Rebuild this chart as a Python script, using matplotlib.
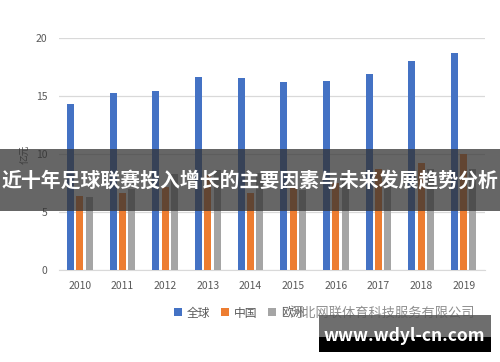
import matplotlib
matplotlib.use('Agg')
import matplotlib.pyplot as plt
import numpy as np
from matplotlib.patches import Rectangle

plt.rcParams['font.family'] = ['Noto Sans CJK SC', 'DejaVu Sans']

years = ['2010', '2011', '2012', '2013', '2014', '2015', '2016', '2017', '2018', '2019']
quanqiu = [14.3, 15.25, 15.4, 16.6, 16.55, 16.2, 16.3, 16.9, 18.0, 18.7]
zhongguo = [6.4, 6.6, 7.2, 8.2, 6.6, 7.2, 7.5, 8.7, 9.25, 10.0]
qita = [6.3, 7.0, 8.3, 8.6, 8.4, 6.9, 8.3, 7.5, 8.7, 8.7]
series_names = ['全球', '中国', '欧洲']
colors = ['#4472C4', '#ED7D31', '#A5A5A5']

fig = plt.figure(figsize=(5, 3.62), dpi=100)
ax = fig.add_axes([0.117, 0.254, 0.853, 0.641])

x = np.arange(len(years))
step = 0.218
w = 0.165
for i, (vals, name) in enumerate(zip([quanqiu, zhongguo, qita], series_names)):
    ax.bar(x + (i - 1) * step, vals, width=w, color=colors[i], label=name, zorder=3)

ax.set_xlim(-0.5, len(years) - 0.5)
ax.set_ylim(0, 20)
ax.set_yticks([0, 5, 10, 15, 20])
ax.set_xticks(x)
ax.set_xticklabels(years)
ax.grid(axis='y', color='#d9d9d9', linewidth=0.9, zorder=0)
for s in ['top', 'right', 'left']:
    ax.spines[s].set_visible(False)
ax.spines['bottom'].set_color('#d9d9d9')
ax.tick_params(length=0, colors='#595959', labelsize=7.5, pad=8)
ax.set_ylabel('亿元', color='#595959', fontsize=7, labelpad=4)

ax.legend(loc='center left', bbox_to_anchor=(0.336, 1 - 313 / 362),
          bbox_transform=fig.transFigure, ncol=3, frameon=False, borderpad=0,
          fontsize=8.5, labelcolor='#595959', handlelength=0.65, handleheight=0.65,
          handletextpad=0.45, columnspacing=0.9)

# watermark text over the legend
fig.text(290 / 500, 1 - 313 / 362, '河北网联体育科技服务有限公司', fontsize=9.5,
         color='#7a7a7a', alpha=0.85, va='center', ha='left', zorder=5)

# banner
fig.patches.append(Rectangle((0, 1 - 211 / 362), 1, 62 / 362, transform=fig.transFigure,
                             facecolor='#333333', alpha=0.75, zorder=10))
fig.text(0.5, 1 - 181 / 362, '近十年足球联赛投入增长的主要因素与未来发展趋势分析',
         fontsize=14.3, fontweight='bold', color='white', ha='center', va='center', zorder=11)

# site box
fig.patches.append(Rectangle((319 / 500, 1 - 337 / 362), 172 / 500, 22 / 362,
                             transform=fig.transFigure, facecolor='#555555', alpha=0.85, zorder=10))
fig.patches.append(Rectangle((319 / 500, 1 - 352 / 362), 172 / 500, 15 / 362,
                             transform=fig.transFigure, facecolor='black', zorder=10))
fig.text(404 / 500, 1 - 336 / 362, 'www.wdyl-cn.com', fontsize=12.5, fontweight='bold',
         color='white', ha='center', va='center', zorder=11)

fig.savefig('out.png', dpi=100)
